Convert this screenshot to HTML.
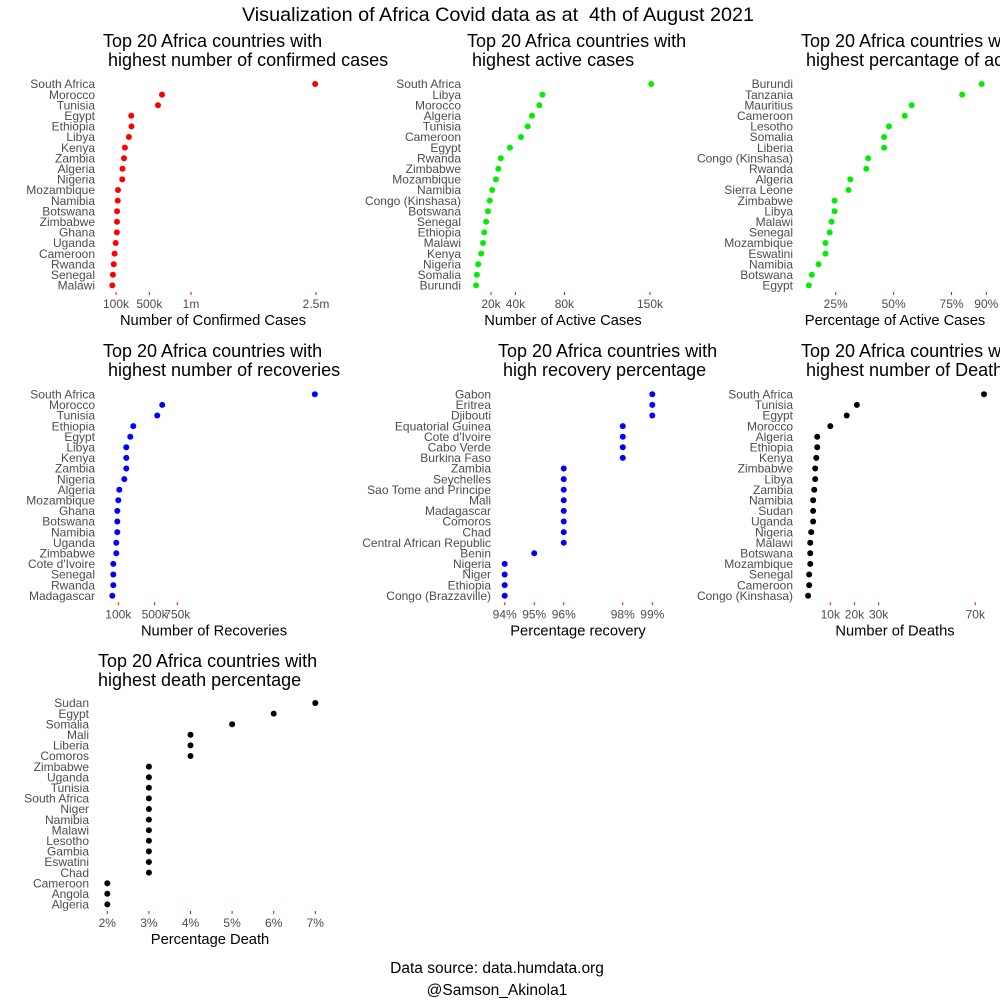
<!DOCTYPE html>
<html><head><meta charset="utf-8"><style>
html,body{margin:0;padding:0;background:#fff;}
svg{display:block;font-family:"Liberation Sans",Arial,sans-serif;}
.lab{font-size:12px;fill:#4d4d4d;text-anchor:end;}
.tk{font-size:12px;fill:#4d4d4d;text-anchor:middle;}
.ttl{font-size:18px;fill:#000;white-space:pre;}
.ax{font-size:14.7px;fill:#000;text-anchor:middle;}
</style></head><body>
<svg id="chart" width="1000" height="1000" viewBox="0 0 1000 1000">
<text x="498" y="21" font-size="19.8" text-anchor="middle" style="white-space:pre">Visualization of Africa Covid data as at  4th of August 2021</text>
<text x="497" y="973" font-size="15.5" text-anchor="middle">Data source: data.humdata.org</text>
<text x="497" y="995" font-size="15.5" text-anchor="middle">@Samson_Akinola1</text>
</svg>
<script>
// Panel 1: confirmed cases (thousands)
const p1Countries = ["South Africa","Morocco","Tunisia","Egypt","Ethiopia","Libya","Kenya","Zambia","Algeria","Nigeria","Mozambique","Namibia","Botswana","Zimbabwe","Ghana","Uganda","Cameroon","Rwanda","Senegal","Malawi"];
const p1Values = [2490,652,604,283,286,255,207,196,178,175,124,121,113,112,110,96,83,73,63,56];
const p1Ticks = [100,500,1000,2500];
const p1TickLabels = ["100k","500k","1m","2.5m"];
// Panel 2: active cases (thousands)
const p2Countries = ["South Africa","Libya","Morocco","Algeria","Tunisia","Cameroon","Egypt","Rwanda","Zimbabwe","Mozambique","Namibia","Congo (Kinshasa)","Botswana","Senegal","Ethiopia","Malawi","Kenya","Nigeria","Somalia","Burundi"];
const p2Values = [151,62,59.5,53.5,50,44.5,35.5,28,26,24,21,19,17.5,16,14.5,13.5,12,9.5,8.5,7.8];
const p2Ticks = [20,40,80,150];
const p2TickLabels = ["20k","40k","80k","150k"];
// Panel 3: active percentage
const p3Countries = ["Burundi","Tanzania","Mauritius","Cameroon","Lesotho","Somalia","Liberia","Congo (Kinshasa)","Rwanda","Algeria","Sierra Leone","Zimbabwe","Libya","Malawi","Senegal","Mozambique","Eswatini","Namibia","Botswana","Egypt"];
const p3Values = [88,79.6,57.8,54.8,48,45.9,45.9,39,38.2,31.3,30.5,24.5,24.5,23.2,22.4,20.6,20.6,17.6,14.7,13.4];
const p3Ticks = [25,50,75,90];
const p3TickLabels = ["25%","50%","75%","90%"];
// Panel 4: recoveries (thousands)
const p4Countries = ["South Africa","Morocco","Tunisia","Ethiopia","Egypt","Libya","Kenya","Zambia","Nigeria","Algeria","Mozambique","Ghana","Botswana","Namibia","Uganda","Zimbabwe","Cote d'Ivoire","Senegal","Rwanda","Madagascar"];
const p4Values = [2265,584,529,265,232,188,188,188,166,111,100,89,89,89,78,78,45,45,45,34];
const p4Ticks = [100,500,750];
const p4TickLabels = ["100k","500k","750k"];
// Panel 5: recovery percentage
const p5Countries = ["Gabon","Eritrea","Djibouti","Equatorial Guinea","Cote d'Ivoire","Cabo Verde","Burkina Faso","Zambia","Seychelles","Sao Tome and Principe","Mali","Madagascar","Comoros","Chad","Central African Republic","Benin","Nigeria","Niger","Ethiopia","Congo (Brazzaville)"];
const p5Values = [99,99,99,98,98,98,98,96,96,96,96,96,96,96,96,95,94,94,94,94];
const p5Ticks = [94,95,96,98,99];
const p5TickLabels = ["94%","95%","96%","98%","99%"];
// Panel 6: deaths (thousands)
const p6Countries = ["South Africa","Tunisia","Egypt","Morocco","Algeria","Ethiopia","Kenya","Zimbabwe","Libya","Zambia","Namibia","Sudan","Uganda","Nigeria","Malawi","Botswana","Mozambique","Senegal","Cameroon","Congo (Kinshasa)"];
const p6Values = [73.6,21,16.8,10,4.6,4.6,4.2,3.75,3.75,3.35,2.9,2.9,2.9,2.1,1.7,1.7,1.7,1.25,1.25,0.8];
const p6Ticks = [10,20,30,70];
const p6TickLabels = ["10k","20k","30k","70k"];
// Panel 7: death percentage
const p7Countries = ["Sudan","Egypt","Somalia","Mali","Liberia","Comoros","Zimbabwe","Uganda","Tunisia","South Africa","Niger","Namibia","Malawi","Lesotho","Gambia","Eswatini","Chad","Cameroon","Angola","Algeria"];
const p7Values = [7,6,5,4,4,4,3,3,3,3,3,3,3,3,3,3,3,2,2,2];
const p7Ticks = [2,3,4,5,6,7];
const p7TickLabels = ["2%","3%","4%","5%","6%","7%"];

const NS="http://www.w3.org/2000/svg";
const svg=document.getElementById('chart');
function mk(tag,attrs,parent){const e=document.createElementNS(NS,tag);for(const k in attrs)e.setAttribute(k,attrs[k]);(parent||svg).appendChild(e);return e;}

function panel(cfg,countries,values,ticks,tickLabels){
  const g=mk('g',{});
  
  
  const xs=v=>cfg.p0+(v-cfg.v0)*(cfg.p1-cfg.p0)/(cfg.v1-cfg.v0);
  const ys=i=>cfg.y0+i*10.6;
  const t1=mk('text',{x:cfg.tx,y:cfg.top+47,class:'ttl'},g);t1.textContent=cfg.t1;
  
  
  const t2=mk('text',{x:cfg.tx2,y:cfg.top+66,class:'ttl'},g);t2.textContent=cfg.t2;
  
  
  countries.forEach((c,i)=>{
    const l=mk('text',{x:cfg.lx,y:ys(i)+4.2,class:'lab'},g);l.textContent=c;
    
    
    const d=mk('circle',{cx:xs(values[i]),cy:ys(i),r:3,fill:cfg.color},g);
    
    
  });
  const ty=cfg.y0+208;
  ticks.forEach((t,i)=>{
    const m=mk('line',{x1:xs(t),x2:xs(t),y1:ty,y2:ty+3,stroke:'#ff0000','stroke-width':1},g);
    
    
    const tl=mk('text',{x:xs(t),y:ty+16,class:'tk'},g);tl.textContent=tickLabels[i];
    
    
  });
  const a=mk('text',{x:cfg.ax,y:ty+33,class:'ax'},g);a.textContent=cfg.axis;
  
  
}
panel({name:'confirmed-panel',top:0,y0:84,lx:95,v0:100,p0:116,v1:2500,p1:316,color:'#ff0000',tx:103,tx2:103,t1:'Top 20 Africa countries with',t2:' highest number of confirmed cases',ax:213,axis:'Number of Confirmed Cases'},p1Countries,p1Values,p1Ticks,p1TickLabels);
panel({name:'active-panel',top:0,y0:84,lx:461,v0:20,p0:491,v1:150,p1:650,color:'#00ee00',tx:467,tx2:467,t1:'Top 20 Africa countries with',t2:' highest active cases',ax:563,axis:'Number of Active Cases'},p2Countries,p2Values,p2Ticks,p2TickLabels);
panel({name:'active-pct-panel',top:0,y0:84,lx:793,v0:25,p0:835.7,v1:90,p1:986.3,color:'#00ee00',tx:801,tx2:801,t1:'Top 20 Africa countries with',t2:' highest percantage of active cases',ax:895,axis:'Percentage of Active Cases'},p3Countries,p3Values,p3Ticks,p3TickLabels);
panel({name:'recoveries-panel',top:310,y0:394.3,lx:95,v0:100,p0:118.3,v1:750,p1:177.3,color:'#0000ff',tx:103,tx2:103,t1:'Top 20 Africa countries with',t2:' highest number of recoveries',ax:214,axis:'Number of Recoveries'},p4Countries,p4Values,p4Ticks,p4TickLabels);
panel({name:'recovery-pct-panel',top:310,y0:394.3,lx:491,v0:94,p0:504.7,v1:99,p1:652.3,color:'#0000ff',tx:498,tx2:498,t1:'Top 20 Africa countries with',t2:' high recovery percentage',ax:578,axis:'Percentage recovery'},p5Countries,p5Values,p5Ticks,p5TickLabels);
panel({name:'deaths-panel',top:310,y0:394.3,lx:793,v0:10,p0:830.3,v1:70,p1:975.3,color:'#000000',tx:801,tx2:801,t1:'Top 20 Africa countries with',t2:' highest number of Deaths',ax:895,axis:'Number of Deaths'},p6Countries,p6Values,p6Ticks,p6TickLabels);
panel({name:'death-pct-panel',top:620,y0:703,lx:89,v0:2,p0:107.3,v1:7,p1:315.3,color:'#000000',tx:98,tx2:98,t1:'Top 20 Africa countries with',t2:'highest death percentage',ax:210,axis:'Percentage Death'},p7Countries,p7Values,p7Ticks,p7TickLabels);
</script>
</body></html>
